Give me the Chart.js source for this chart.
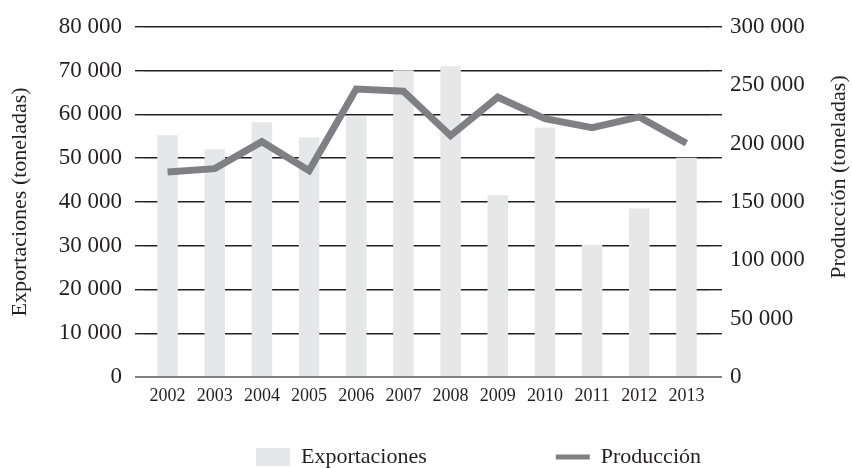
<!DOCTYPE html>
<html>
<head>
<meta charset="utf-8">
<script src="https://cdn.jsdelivr.net/npm/chart.js@4/dist/chart.umd.min.js"></script>
<style>
  html, body { margin: 0; padding: 0; background: #ffffff; }
  #wrap { width: 852px; height: 468px; position: relative; }
</style>
</head>
<body>
<div id="wrap"><canvas id="c"></canvas></div>
<script>
// ---- data ----
const years = ['2002','2003','2004','2005','2006','2007','2008','2009','2010','2011','2012','2013'];
const exportaciones = [55200, 52000, 58200, 54700, 59500, 70100, 71000, 41500, 57000, 30200, 38500, 50100];
const produccion = [175700, 178500, 201600, 176800, 246700, 244800, 206700, 239700, 221300, 213500, 222800, 200200];
const leftAxisTitle = 'Exportaciones (toneladas)';
const rightAxisTitle = 'Producción (toneladas)';
const seriesNames = ['Exportaciones', 'Producción'];

// ---- styles ----
const FONT = '"Liberation Serif", "Times New Roman", serif';
const TEXT = '#231f20';
const GRID = '#231f20';
const BASE = '#808080';
const BAR = '#e6e7e8';
const LINE = '#7f8083';
const CLEAR = 'rgba(0,0,0,0)';

const fmt = v => String(v).replace(/\B(?=(\d{3})+(?!\d))/g, ' ');
const gridColor = ctx => (ctx.tick && ctx.tick.value === 0) ? BASE : GRID;
const gridWidth = ctx => (ctx.tick && ctx.tick.value === 0) ? 2 : 1.4;

const rightTitlePlugin = {
  id: 'rightTitle',
  afterDraw(chart) {
    const c = chart.ctx;
    c.save();
    c.font = '22px ' + FONT;
    c.fillStyle = TEXT;
    c.translate(839, 177);
    c.rotate(-Math.PI / 2);
    c.textAlign = 'center';
    c.textBaseline = 'middle';
    c.fillText(rightAxisTitle, 0, 0);
    c.restore();
  }
};

new Chart(document.getElementById('c'), {
  data: {
    labels: years,
    datasets: [
      {
        type: 'bar',
        label: seriesNames[0],
        data: exportaciones,
        yAxisID: 'y',
        backgroundColor: BAR,
        borderWidth: 0,
        categoryPercentage: 1,
        barPercentage: 0.435,
        order: 1
      },
      {
        type: 'line',
        label: seriesNames[1],
        data: produccion,
        yAxisID: 'y1',
        borderColor: LINE,
        backgroundColor: LINE,
        borderWidth: 7,
        borderJoinStyle: 'miter',
        borderCapStyle: 'butt',
        pointRadius: 0,
        pointHoverRadius: 0,
        tension: 0,
        fill: false,
        order: 0
      }
    ]
  },
  options: {
    responsive: true,
    maintainAspectRatio: false,
    animation: false,
    layout: { padding: { top: 22, left: 0, right: 0, bottom: -10 } },
    plugins: {
      tooltip: { enabled: false },
      legend: {
        position: 'bottom',
        fullSize: false,
        align: 'end',
        labels: {
          usePointStyle: true,
          pointStyleWidth: 34,
          boxHeight: 18,
          padding: 9,
          color: TEXT,
          font: { family: FONT, size: 22 },
          generateLabels: () => [
            { text: seriesNames[0], fillStyle: BAR, strokeStyle: BAR, lineWidth: 0, pointStyle: 'rect', hidden: false, datasetIndex: 0, fontColor: TEXT },
            { text: '            ', fillStyle: CLEAR, strokeStyle: CLEAR, lineWidth: 0, pointStyle: 'rect', hidden: false, fontColor: CLEAR },
            { text: seriesNames[1], fillStyle: LINE, strokeStyle: LINE, lineWidth: 5, lineCap: 'butt', pointStyle: 'line', hidden: false, datasetIndex: 1, fontColor: TEXT }
          ]
        }
      }
    },
    scales: {
      x: {
        type: 'category',
        offset: true,
        grid: { display: false, drawTicks: false },
        border: { display: false },
        ticks: { color: TEXT, font: { family: FONT, size: 18 }, padding: 8, maxRotation: 0, autoSkip: false },
        afterFit: s => { s.height = 60; }
      },
      y: {
        type: 'linear',
        position: 'left',
        min: 0, max: 80000,
        grid: { color: gridColor, lineWidth: gridWidth, tickLength: 9, drawTicks: true },
        border: { display: false },
        ticks: { stepSize: 10000, color: TEXT, font: { family: FONT, size: 23 }, padding: 13, callback: v => fmt(v) },
        title: { display: true, text: leftAxisTitle, color: TEXT, font: { family: FONT, size: 22 }, padding: { top: 7, bottom: 0 } },
        afterFit: s => { s.width = 144; }
      },
      yGrid: {
        type: 'linear',
        position: 'right',
        weight: 0,
        min: 0, max: 80000,
        grid: { drawOnChartArea: false, color: gridColor, lineWidth: gridWidth, tickLength: 12, drawTicks: true },
        border: { display: false },
        ticks: { stepSize: 10000, display: false },
        afterFit: s => { s.width = 12; }
      },
      y1: {
        type: 'linear',
        position: 'right',
        weight: 1,
        min: 0, max: 300000,
        grid: { display: false, drawTicks: false },
        border: { display: false },
        ticks: { stepSize: 50000, color: TEXT, font: { family: FONT, size: 23 }, padding: 8, callback: v => fmt(v) },
        afterFit: s => { s.width = 130; }
      }
    }
  },
  plugins: [rightTitlePlugin]
});
</script>
</body>
</html>
